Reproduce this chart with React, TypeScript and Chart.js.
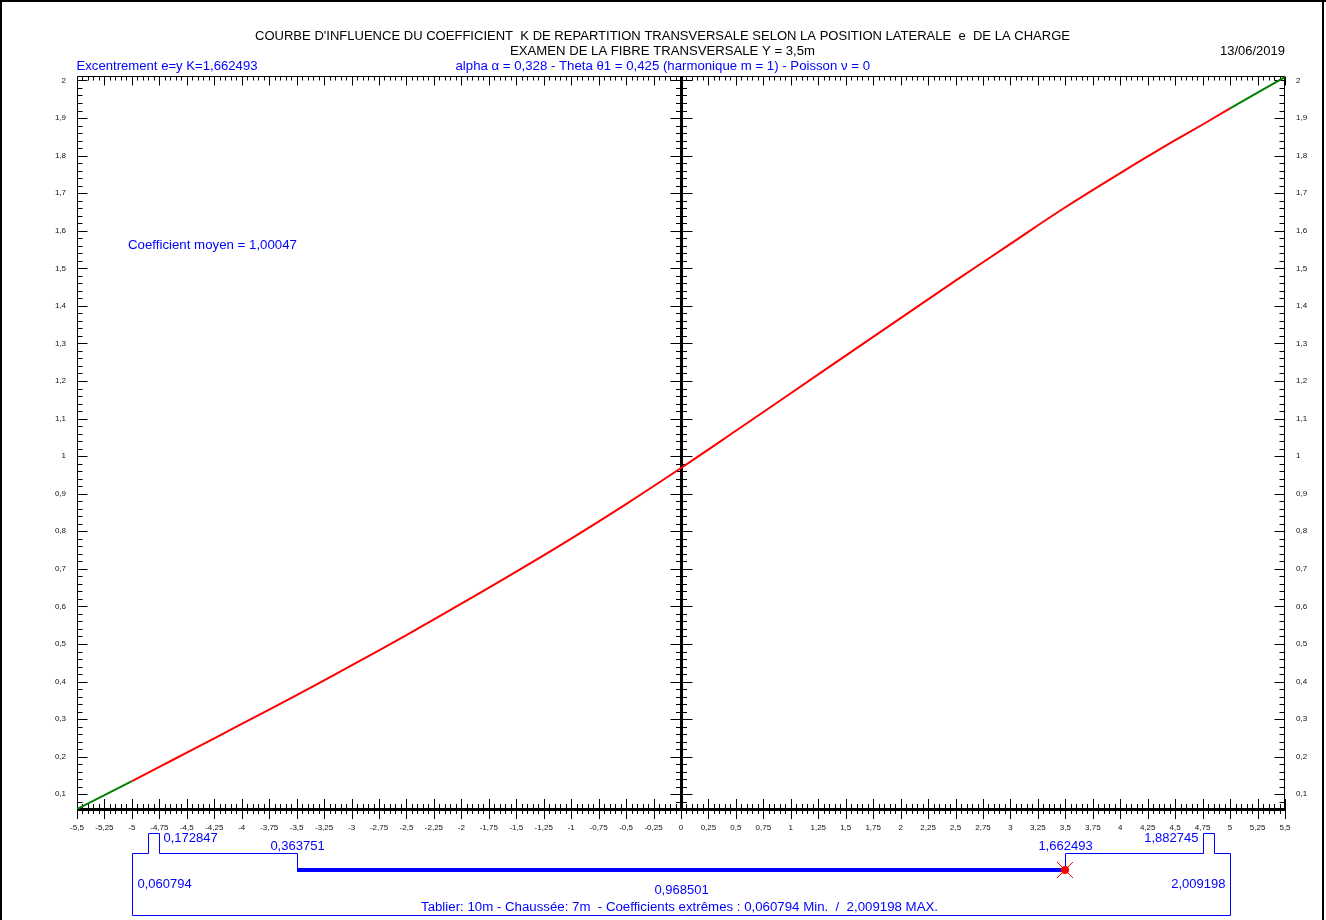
import React, { useEffect, useRef } from 'react';
import { Chart, registerables } from 'chart.js';

Chart.register(...registerables);

// ---- data ----
const EXCENTREMENT = [-5.5, -5, -4.75, -4.5, -4, -3.5, -3, -2.5, -2, -1.5, -1, -0.5, 0, 0.5, 1, 1.5, 2, 2.5, 3, 3.5, 4, 4.5, 4.75, 5, 5.5];
const COEFF_K = [0.060794, 0.1348, 0.172847, 0.2109, 0.2871, 0.363751, 0.4428, 0.5238, 0.6072, 0.6925, 0.7805, 0.8725, 0.968501, 1.0675, 1.1675, 1.2675, 1.3675, 1.467, 1.5652, 1.662493, 1.7535, 1.841, 1.882745, 1.9257, 2.009198];

const X_TICKS = [-5.5, -5.25, -5, -4.75, -4.5, -4.25, -4, -3.75, -3.5, -3.25, -3, -2.75, -2.5, -2.25, -2, -1.75, -1.5, -1.25, -1, -0.75, -0.5, -0.25, 0, 0.25, 0.5, 0.75, 1, 1.25, 1.5, 1.75, 2, 2.25, 2.5, 2.75, 3, 3.25, 3.5, 3.75, 4, 4.25, 4.5, 4.75, 5, 5.25, 5.5];
const Y_TICKS = [0.1, 0.2, 0.3, 0.4, 0.5, 0.6, 0.7, 0.8, 0.9, 1, 1.1, 1.2, 1.3, 1.4, 1.5, 1.6, 1.7, 1.8, 1.9, 2];

const X_MIN = -5.5;
const X_MAX = 5.5;
const Y_MIN = 0.060794;
const Y_MAX = 2.009198;

// deck geometry (m)
const TABLIER = [-5, 5];
const TROTTOIR_L = [-4.85, -4.75];
const TROTTOIR_R = [4.75, 4.85];
const CHAUSSEE = [-3.5, 3.5];
const LOAD_E = 3.5;

// annotations
const K_TROTTOIR_L = '0,172847';
const K_CHAUSSEE_L = '0,363751';
const K_CHAUSSEE_R = '1,662493';
const K_TROTTOIR_R = '1,882745';
const K_MIN = '0,060794';
const K_MAX = '2,009198';
const K_CENTRE = '0,968501';

const TITLE_1 = "COURBE D'INFLUENCE DU COEFFICIENT  K DE REPARTITION TRANSVERSALE SELON LA POSITION LATERALE  e  DE LA CHARGE";
const TITLE_2 = 'EXAMEN DE LA FIBRE TRANSVERSALE Y = 3,5m';
const TITLE_3 = 'alpha α = 0,328 - Theta θ1 = 0,425 (harmonique m = 1) - Poisson ν = 0';
const EXC_TEXT = 'Excentrement e=y K=1,662493';
const DATE_TEXT = '13/06/2019';
const MOYEN_TEXT = 'Coefficient moyen = 1,00047';
const FOOT_TEXT = 'Tablier: 10m - Chaussée: 7m  - Coefficients extrêmes : 0,060794 Min.  /  2,009198 MAX.';

const FONT = '"Liberation Sans", Arial, sans-serif';
const BLUE = '#0000ff';
const RED = '#ff0000';
const GREEN = '#008000';

const fmt = (v: number) => String(v).replace('.', ',');

function fitText(ctx: CanvasRenderingContext2D, text: string, x1: number, x2: number, yc: number, color: string, size: number) {
  ctx.save();
  ctx.font = `${size}px ${FONT}`;
  const w = ctx.measureText(text).width;
  const sx = (x2 - x1) / w;
  ctx.translate(x1, yc);
  ctx.scale(sx, 1);
  ctx.textAlign = 'left';
  ctx.textBaseline = 'middle';
  ctx.fillStyle = color;
  ctx.fillText(text, 0, 0);
  ctx.restore();
}

function plainText(ctx: CanvasRenderingContext2D, text: string, x: number, yc: number, align: CanvasTextAlign, color: string, size: number) {
  ctx.save();
  ctx.font = `${size}px ${FONT}`;
  ctx.textAlign = align;
  ctx.textBaseline = 'middle';
  ctx.fillStyle = color;
  ctx.fillText(text, x, yc);
  ctx.restore();
}

const decorPlugin = {
  id: 'decor',
  beforeDraw(chart: any) {
    const ctx = chart.ctx as CanvasRenderingContext2D;
    const W = chart.width, H = chart.height;
    ctx.save();
    ctx.fillStyle = '#fff';
    ctx.fillRect(0, 0, W, H);
    ctx.fillStyle = '#000';
    ctx.fillRect(0, 0, 2, H);
    ctx.fillRect(0, 0, W, 2);
    ctx.fillRect(1322, 0, 2, H);
    ctx.restore();
  },
  beforeDatasetsDraw(chart: any) {
    const ctx = chart.ctx as CanvasRenderingContext2D;
    const { left, right, top, bottom } = chart.chartArea;
    const xs = chart.scales.x;
    const ys = chart.scales.y;
    ctx.save();
    ctx.strokeStyle = '#000';
    ctx.fillStyle = '#000';
    ctx.lineWidth = 1;
    const seg = (x1: number, y1: number, x2: number, y2: number) => {
      ctx.beginPath();
      ctx.moveTo(x1, y1);
      ctx.lineTo(x2, y2);
      ctx.stroke();
    };
    const L = Math.round(left) + 0.5;
    const R = Math.round(right) - 0.5;
    const T = Math.round(top) - 0.5;
    const B = Math.round(bottom);
    // frame lines
    seg(L, T, R, T);
    seg(L, T, L, B);
    seg(R, T, R, B);
    // top + bottom ticks
    for (let i = 0; i <= 220; i++) {
      const v = X_MIN + i * 0.05;
      const px = Math.round(xs.getPixelForValue(v)) + 0.5;
      const major = i % 5 === 0;
      seg(px, T, px, T + (major ? 9 : 4));
      const h = major ? 10 : 5;
      seg(px, B - h, px, B + h);
    }
    // bottom thick axis
    ctx.fillRect(Math.round(left), B - 1, Math.round(right - left) + 1, 3);
    // left / right / centre ticks
    const cx = Math.round(xs.getPixelForValue(0));
    ctx.fillRect(cx - 1, Math.round(top) - 1, 3, B - Math.round(top) + 1);
    for (let k = 3; k <= 100; k++) {
      const v = k * 0.02;
      if (v < Y_MIN - 1e-9) continue;
      const py = Math.round(ys.getPixelForValue(v)) + 0.5;
      const major = k % 5 === 0;
      seg(L, py, L + (major ? 10 : 5), py);
      seg(R, py, R - (major ? 10 : 5), py);
      const h = major ? 11 : 5.5;
      seg(cx + 0.5 - h, py, cx + 0.5 + h, py);
    }
    ctx.restore();
  },
  afterDraw(chart: any) {
    const ctx = chart.ctx as CanvasRenderingContext2D;
    const { bottom } = chart.chartArea;
    const xs = chart.scales.x;
    const X = (v: number) => Math.round(xs.getPixelForValue(v)) + 0.5;

    // headers
    fitText(ctx, TITLE_1, 255, 1070, 37, '#000', 12);
    fitText(ctx, TITLE_2, 510, 815, 51.5, '#000', 12);
    fitText(ctx, TITLE_3, 455.5, 870, 66.5, BLUE, 12);
    fitText(ctx, EXC_TEXT, 76.5, 257.5, 66.5, BLUE, 12);
    fitText(ctx, DATE_TEXT, 1220, 1285, 52, '#000', 12);
    fitText(ctx, MOYEN_TEXT, 128, 297, 246, BLUE, 12);

    // deck cross-section schematic
    const B = Math.round(bottom);
    const yLedge = B + 44 + 0.5;
    const yNotch = B + 24 + 0.5;
    const yRoad = B + 61;
    const yBase = B + 106 + 0.5;
    ctx.save();
    ctx.strokeStyle = BLUE;
    ctx.lineWidth = 1;
    ctx.beginPath();
    ctx.moveTo(X(CHAUSSEE[0]), yRoad);
    ctx.lineTo(X(CHAUSSEE[0]), yLedge);
    ctx.lineTo(X(TROTTOIR_L[1]), yLedge);
    ctx.lineTo(X(TROTTOIR_L[1]), yNotch);
    ctx.lineTo(X(TROTTOIR_L[0]), yNotch);
    ctx.lineTo(X(TROTTOIR_L[0]), yLedge);
    ctx.lineTo(X(TABLIER[0]), yLedge);
    ctx.lineTo(X(TABLIER[0]), yBase);
    ctx.lineTo(X(TABLIER[1]), yBase);
    ctx.lineTo(X(TABLIER[1]), yLedge);
    ctx.lineTo(X(TROTTOIR_R[1]), yLedge);
    ctx.lineTo(X(TROTTOIR_R[1]), yNotch);
    ctx.lineTo(X(TROTTOIR_R[0]), yNotch);
    ctx.lineTo(X(TROTTOIR_R[0]), yLedge);
    ctx.lineTo(X(CHAUSSEE[1]), yLedge);
    ctx.lineTo(X(CHAUSSEE[1]), yRoad);
    ctx.stroke();
    // carriageway
    ctx.fillStyle = BLUE;
    ctx.fillRect(X(CHAUSSEE[0]) - 0.5, yRoad - 2, X(CHAUSSEE[1]) - X(CHAUSSEE[0]), 4);
    // load marker
    const lx = X(LOAD_E) - 0.5;
    ctx.strokeStyle = RED;
    ctx.beginPath();
    ctx.moveTo(lx - 8, yRoad - 8);
    ctx.lineTo(lx + 8, yRoad + 8);
    ctx.moveTo(lx + 8, yRoad - 8);
    ctx.lineTo(lx - 8, yRoad + 8);
    ctx.stroke();
    ctx.fillStyle = RED;
    ctx.beginPath();
    ctx.arc(lx, yRoad, 4, 0, Math.PI * 2);
    ctx.fill();
    ctx.restore();

    plainText(ctx, K_TROTTOIR_L, X(TROTTOIR_L[1]) + 4, B + 29, 'left', BLUE, 13);
    plainText(ctx, K_CHAUSSEE_L, X(CHAUSSEE[0]), B + 37, 'center', BLUE, 13);
    plainText(ctx, K_CHAUSSEE_R, X(CHAUSSEE[1]), B + 37, 'center', BLUE, 13);
    plainText(ctx, K_TROTTOIR_R, X(TROTTOIR_R[0]) - 5, B + 29, 'right', BLUE, 13);
    plainText(ctx, K_MIN, X(TABLIER[0]) + 5, B + 75, 'left', BLUE, 13);
    plainText(ctx, K_MAX, X(TABLIER[1]) - 5, B + 75, 'right', BLUE, 13);
    plainText(ctx, K_CENTRE, X(0), B + 81, 'center', BLUE, 13);
    fitText(ctx, FOOT_TEXT, 421, 938, B + 99, BLUE, 12);
  },
};

export default function App() {
  const ref = useRef<HTMLCanvasElement>(null);

  useEffect(() => {
    if (!ref.current) return;
    const tickFont = { family: FONT, size: 8 };
    const chart = new Chart(ref.current, {
      type: 'line',
      data: {
        datasets: [
          {
            data: EXCENTREMENT.map((e, i) => ({ x: e, y: COEFF_K[i] })),
            borderColor: RED,
            borderWidth: 2,
            pointRadius: 0,
            tension: 0.4,
            segment: {
              borderColor: (c: any) =>
                c.p1.parsed.x <= TABLIER[0] || c.p0.parsed.x >= TABLIER[1] ? GREEN : RED,
            },
          } as any,
        ],
      },
      options: {
        animation: false,
        responsive: false,
        devicePixelRatio: 1,
        layout: { padding: { top: 77, left: 0, right: 0, bottom: 0 } },
        plugins: { legend: { display: false }, tooltip: { enabled: false }, title: { display: false } },
        scales: {
          x: {
            type: 'linear',
            min: X_MIN,
            max: X_MAX,
            afterBuildTicks: (s: any) => {
              s.ticks = X_TICKS.map((v) => ({ value: v }));
            },
            afterFit: (s: any) => {
              s.height = 111;
            },
            grid: { display: false, drawTicks: false },
            border: { display: false },
            ticks: {
              autoSkip: false,
              maxRotation: 0,
              minRotation: 0,
              padding: 14,
              color: '#111',
              font: tickFont,
              callback: (v: any) => fmt(Number(v)),
            },
          },
          y: {
            type: 'linear',
            position: 'left',
            min: Y_MIN,
            max: Y_MAX,
            afterBuildTicks: (s: any) => {
              s.ticks = Y_TICKS.map((v) => ({ value: v }));
            },
            afterFit: (s: any) => {
              s.width = 77;
            },
            grid: { display: false, drawTicks: false },
            border: { display: false },
            ticks: {
              autoSkip: false,
              padding: 11,
              color: '#111',
              font: tickFont,
              callback: (v: any) => fmt(Number(v)),
            },
          },
          y2: {
            type: 'linear',
            position: 'right',
            min: Y_MIN,
            max: Y_MAX,
            afterBuildTicks: (s: any) => {
              s.ticks = Y_TICKS.map((v) => ({ value: v }));
            },
            afterFit: (s: any) => {
              s.width = 41;
            },
            grid: { display: false, drawTicks: false },
            border: { display: false },
            ticks: {
              autoSkip: false,
              padding: 11,
              color: '#111',
              font: tickFont,
              callback: (v: any) => fmt(Number(v)),
            },
          },
        },
      } as any,
      plugins: [decorPlugin as any],
    });
    return () => chart.destroy();
  }, []);

  return (
    <div style={{ position: 'fixed', left: 0, top: 0, width: 1326, height: 920, background: '#fff' }}>
      <canvas ref={ref} width={1326} height={920} style={{ display: 'block', width: 1326, height: 920 }} />
    </div>
  );
}
